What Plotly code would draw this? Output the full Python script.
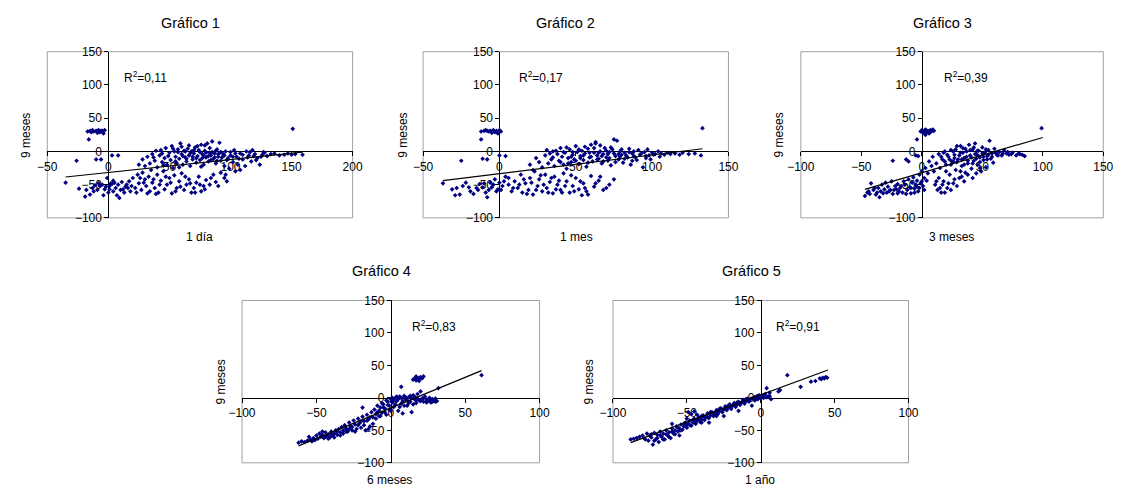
import plotly.graph_objects as go

W, H = 1126, 497
FONT = "Liberation Sans, Arial, sans-serif"
NAVY = "#000080"

# ---------------- data ----------------
y_label = "9 meses"
titles = ["Gráfico 1", "Gráfico 2", "Gráfico 3", "Gráfico 4", "Gráfico 5"]
x_labels = ["1 día", "1 mes", "3 meses", "6 meses", "1 año"]
r2_values = ["0,11", "0,17", "0,39", "0,83", "0,91"]
x_ranges = [[-50, 200], [-50, 150], [-100, 150], [-100, 100], [-100, 100]]
y_range = [-100, 150]
tick_step = 50

trend_1dia = [(-35, -38.5), (159, -1)]
trend_1mes = [(-37, -44), (133, 4)]
trend_3meses = [(-47, -57), (100, 21)]
trend_6meses = [(-62, -74), (61, 42)]
trend_1anio = [(-88, -69), (45.5, 43)]

pts_1dia = [
    (-17, 30), (-15, 31), (-13, 32), (-12, 30), (-10, 31), (-8, 32), (-7, 29), (-5, 31), (-4, 27), (-3, 32),
    (-14, 29), (-9, 28), (-16, 18), (-6, 31),
    (-26, -14), (-10, -12), (-6, -12), (3, -6), (8, -6),
    (-35, -47), (-24, -56), (-19, -68), (-15, -65), (-13, -55), (-11, -51), (-9, -58), (-7, -52), (-5, -50),
    (-4, -66), (-2, -53), (0, -62), (1, -52), (2, -48), (3, -49), (5, -47), (6, -55), (7, -66), (9, -70),
    (10, -58), (12, -57), (14, -53), (-1, -40), (4, -44),
    (-12, -60), (-8, -48), (-3, -57), (1, -57), (4, -60), (-18, -58), (8, -50), (11, -46), (13, -62), (16, -55),
    (15, -50), (17, -45), (18, -60), (20, -40), (22, -55), (24, -35), (25, -48), (27, -58), (28, -32),
    (30, -42), (31, -52), (33, -38), (34, -60), (35, -28), (36, -47), (38, -55), (40, -35), (41, -62),
    (43, -44), (45, -30), (46, -57), (48, -50), (50, -40), (52, -63), (54, -36), (56, -55), (58, -45),
    (60, -33), (62, -58), (64, -50), (66, -42), (68, -62), (70, -55), (72, -47), (74, -38), (76, -60),
    (78, -52), (80, -43), (83, -50), (86, -35), (88, -46), (92, -32), (95, -40), (97, -45), (104, -30),
    (108, -28),
    (19, -52), (23, -62), (26, -40), (29, -47), (32, -63), (37, -42), (39, -64), (42, -50), (47, -38),
    (51, -47), (55, -60), (59, -53), (63, -38), (67, -48), (71, -62), (75, -50), (79, -57), (84, -40),
    (90, -52), (96, -35),
    (25, -20), (28, -12), (30, -22), (32, -8), (34, -18), (36, -4), (38, -14), (40, -24), (42, -6), (43, 2),
    (44, -16), (46, -10), (47, 5), (48, -20), (50, -2), (51, -13), (52, 8), (53, -25), (54, 0), (55, -8),
    (56, -18), (57, 3), (58, -11), (59, 12), (60, -4), (61, -20), (62, 1), (63, -9), (64, -15), (65, 4),
    (66, -6), (67, -22), (68, 0), (69, -12), (70, -3), (71, 6), (72, -17), (73, -7), (74, 2), (75, -13),
    (76, 10), (77, -4), (78, -20), (79, 1), (80, -9), (81, 12), (82, -15), (83, -2), (84, -6), (85, 15),
    (86, -11), (87, -3), (88, -18), (89, 3), (90, -8), (91, 13), (92, -14), (94, -4), (95, -22), (96, 0),
    (98, -10), (99, -26), (100, -6), (102, -16), (103, 2), (105, -8), (106, -20), (108, -3), (110, -12),
    (112, -22), (113, 0), (115, -6), (117, -15), (118, 2), (120, -4), (122, -10), (124, -20), (126, -5),
    (128, -2), (130, -7), (133, -4), (136, -3), (140, -6), (144, -5), (147, -3), (150, -5), (153, -4),
    (159, -5), (151, 34),
    (37, -9), (39, 1), (44, -3), (45, -21), (49, -7), (53, 4), (55, -15), (57, -1), (58, -24), (60, 7),
    (61, -7), (63, 0), (64, -11), (66, 9), (67, -3), (69, -8), (70, 2), (72, -10), (73, 8), (75, -1),
    (76, -23), (77, -10), (78, -6), (79, 9), (80, -2), (82, -7), (83, 5), (84, -13), (85, -1), (87, -9),
    (88, 1), (89, -14), (90, -4), (92, -1), (93, -9), (95, -6), (97, -13), (100, -1), (102, -8), (104, -3),
    (107, -11), (110, -5), (114, -9), (116, -1), (119, -7), (121, -13), (125, -8), (127, -1),
]

pts_1mes = [
    (-12, 30), (-10, 31), (-9, 32), (-7, 30), (-6, 31), (-4, 32), (-3, 29), (-2, 31), (-1, 27), (0, 32),
    (1, 30), (-5, 28), (-12, 18), (-8, 31),
    (-25, -14), (-11, -11), (-8, -12), (0, -6), (4, -7),
    (-37, -48), (-31, -57), (-29, -66), (-26, -65), (-22, -47), (-20, -54), (-17, -64), (-13, -49),
    (-11, -54), (-9, -62), (-8, -69), (-6, -47), (-5, -54), (-3, -42), (-1, -57), (0, -47), (-15, -55),
    (-24, -52), (-2, -60), (2, -52),
    (-28, -55), (-19, -60), (-14, -58), (-10, -48), (-7, -58), (-4, -50), (1, -58), (3, -45),
    (4, -38), (6, -50), (8, -60), (10, -45), (12, -55), (14, -35), (15, -62), (17, -48), (19, -58),
    (20, -40), (22, -65), (23, -30), (25, -52), (26, -42), (28, -60), (30, -35), (31, -55), (33, -46),
    (35, -63), (36, -38), (38, -50), (40, -58), (42, -33), (44, -45), (46, -62), (48, -52), (50, -40),
    (52, -57), (54, -66), (55, -48), (57, -60), (60, -37), (62, -53), (65, -44), (68, -58), (72, -50),
    (75, -42),
    (6, -40), (9, -55), (13, -50), (16, -42), (18, -64), (21, -47), (24, -58), (27, -36), (29, -50),
    (32, -62), (34, -40), (37, -57), (39, -44), (41, -62), (43, -52), (47, -36), (49, -60), (53, -45),
    (56, -55), (58, -65), (63, -48), (66, -38), (70, -55),
    (20, -20), (22, -28), (24, -10), (26, -16), (28, -24), (30, -6), (31, 2), (32, -18), (34, -12), (35, 0),
    (36, -22), (38, -4), (39, -14), (40, 5), (41, -8), (42, -20), (43, -2), (44, -26), (45, -10), (46, 3),
    (47, -16), (48, -5), (49, -12), (50, 8), (51, -1), (52, -19), (53, -7), (54, 1), (55, -13), (56, -3),
    (57, -23), (58, 4), (59, -9), (60, 10), (61, -15), (62, -2), (63, 12), (64, -6), (65, -11), (66, 0),
    (67, -18), (68, -4), (69, 5), (70, -9), (71, -14), (72, -1), (73, -21), (74, 3), (75, 18), (76, -7),
    (77, 16), (78, -12), (79, 0), (80, -5), (81, -17), (82, -2), (84, -9), (85, 4), (86, -20), (87, -3),
    (88, -7), (90, -13), (91, 2), (92, -5), (94, -24), (95, -1), (96, -10), (97, 3), (98, -6), (100, -2),
    (102, -4), (104, 0), (106, -3), (108, -5), (110, -2), (112, -4), (115, -3), (118, -5), (120, -2),
    (124, -4), (128, -3), (132, -6), (133, 35), (63, 14),
    (33, -3), (35, -9), (37, 1), (40, -16), (42, -1), (44, 6), (45, -18), (47, -8), (48, -1), (50, -14),
    (52, 3), (53, -10), (55, -6), (56, 7), (58, -17), (59, -2), (60, -8), (62, 5), (64, -12), (65, -2),
    (66, 9), (67, -7), (68, -15), (70, 1), (71, -4), (72, -10), (73, 6), (75, -3), (76, -16), (78, -4),
    (79, -8), (80, 3), (82, -11), (83, -6), (85, -1), (87, -14), (88, 0), (89, -9), (93, -3), (96, -7),
    (99, -12), (101, -5), (105, -8),
]

pts_3meses = [
    (-47, -67), (-45, -62), (-42, -48), (-43, -64), (-40, -58), (-38, -65), (-36, -55), (-35, -69),
    (-34, -60), (-33, -50), (-31, -57), (-30, -47), (-29, -62), (-28, -53), (-26, -58), (-25, -45),
    (-24, -64), (-22, -52), (-21, -57), (-20, -49), (-19, -60), (-18, -55), (-16, -62), (-15, -45),
    (-14, -50), (-12, -58), (-11, -42), (-10, -54), (-9, -63), (-8, -47), (-7, -39), (-6, -56), (-5, -50),
    (-4, -44), (-3, -60), (-2, -35), (-1, -48), (0, -30), (1, -52), (2, -40), (3, -25), (4, -44), (5, -33),
    (-44, -60), (-39, -55), (-37, -62), (-32, -63), (-27, -60), (-23, -58), (-20, -63), (-17, -52),
    (-13, -64), (-9, -55), (-6, -62), (-4, -53), (-2, -55), (0, -45), (2, -58),
    (-1, 30), (0, 32), (1, 28), (2, 31), (3, 33), (4, 29), (5, 31), (6, 27), (7, 32), (8, 30), (9, 33),
    (10, 31), (3, 25), (-4, 18),
    (-24, -14), (-13, -12), (-11, -15), (-5, -6), (-3, -7),
    (6, -15), (8, -22), (9, -8), (10, -30), (11, -50), (12, -18), (13, -58), (14, -4), (15, -25), (16, -62),
    (17, -12), (18, -45), (19, 0), (20, -20), (21, -55), (22, -8), (23, -35), (24, 2), (25, -15), (26, -48),
    (27, -5), (28, -28), (29, 8), (30, -12), (31, -40), (32, -2), (33, -22), (34, 5), (35, -10), (36, -32),
    (37, 0), (38, -18), (39, 10), (40, -6), (41, -26), (42, 3), (43, -14), (44, 12), (45, -4), (46, -20),
    (47, 1), (48, -9), (49, -30), (50, 6), (51, -13), (52, -2), (53, -24), (54, -7), (55, 2), (56, 16),
    (57, -11), (58, -3), (59, -17), (60, 4), (62, -5), (64, -1), (66, -6), (68, 2), (70, -3), (72, -5),
    (75, -2), (78, -6), (81, -4), (85, -7), (99, 35), (26, -15), (33, -38), (20, -30), (14, -40),
    (16, -8), (18, -2), (19, -15), (21, -5), (23, -12), (24, -20), (26, 0), (27, -10), (28, 3), (29, -16),
    (31, -6), (32, 8), (33, -12), (34, -2), (35, -20), (36, 4), (37, -8), (38, -14), (40, 2), (41, -9),
    (42, -18), (43, 6), (44, -4), (45, -11), (46, 1), (47, -7), (48, -16), (50, -3), (51, -8), (53, 3),
    (54, -12), (55, -5), (58, -8), (61, -2), (63, -6), (67, -3), (71, -1), (74, -4), (80, -3), (83, -5),
    (12, -45), (15, -55), (17, -50), (19, -62), (22, -48), (24, -58), (27, -42), (29, -52), (32, -30),
    (35, -45), (38, -35), (42, -40), (45, -33), (48, -25),
]

pts_6meses = [
    (-62, -69), (-60, -67), (-58, -68), (-56, -66), (-54, -64), (-52, -62), (-50, -58), (-49, -63),
    (-48, -55), (-47, -60), (-46, -57), (-45, -62), (-44, -53), (-43, -59), (-42, -56), (-41, -61),
    (-40, -52), (-39, -58), (-38, -55), (-37, -50), (-36, -57), (-35, -48), (-34, -53), (-33, -45),
    (-32, -50), (-31, -42), (-30, -47), (-29, -52), (-28, -38), (-27, -44), (-26, -50), (-25, -35),
    (-24, -41), (-23, -48), (-22, -32), (-21, -39), (-20, -46), (-19, -15), (-19, -29), (-18, -36),
    (-17, -50), (-16, -26), (-15, -33), (-14, -44), (-13, -22), (-12, -30), (-11, -18), (-10, -25),
    (-9, -12), (-8, -20), (-7, -28), (-6, -8), (-5, -15), (-4, -22), (-3, -4), (-2, -11), (-1, -18),
    (0, -2), (1, -7), (2, -14), (3, 0), (4, -5), (5, -20), (6, 2), (7, -9), (8, -24), (9, 3), (10, -3),
    (11, -12), (12, 1), (13, -6), (14, -22), (15, 4), (16, -2), (17, -8), (18, 6), (19, -4), (20, 10),
    (21, -1), (22, -6), (23, 2), (24, -3), (25, -5), (26, 0), (27, -7), (28, -2), (29, -4), (30, -6),
    (32, 15), (7, 17), (61, 35),
    (15, 28), (16, 30), (17, 27), (18, 31), (19, 29), (20, 32), (21, 30), (22, 33), (17, 33), (19, 26),
    (-55, -60), (-53, -67), (-51, -65), (-46, -52), (-44, -60), (-42, -63), (-40, -57), (-38, -61),
    (-36, -52), (-34, -58), (-32, -55), (-30, -52), (-28, -48), (-26, -45), (-24, -52), (-22, -42),
    (-20, -36), (-18, -42), (-16, -35), (-15, -48), (-14, -30), (-12, -40), (-10, -32), (-9, -22),
    (-8, -28), (-7, -15), (-6, -23), (-5, -10), (-4, -16), (-3, -26), (-2, -6), (-1, -12), (0, -20),
    (1, 0), (2, -4), (3, -10), (4, 2), (5, -2), (6, -14), (7, 0), (8, -5), (9, -12), (10, 1), (11, -4),
    (12, -8), (13, 3), (14, -1), (15, -10), (16, 2), (17, -4), (18, -1), (20, -5), (22, 0), (24, -7),
    (26, -3), (28, -6), (30, -1), (31, -5),
]

pts_1anio = [
    (-88, -64), (-86, -63), (-82, -60), (-79, -62), (-77, -55), (-76, -66), (-75, -58), (-74, -61),
    (-73, -72), (-72, -54), (-71, -64), (-70, -57), (-69, -68), (-68, -52), (-67, -60), (-66, -55),
    (-65, -64), (-64, -50), (-63, -58), (-62, -53), (-61, -62), (-60, -47), (-59, -55), (-58, -50),
    (-57, -44), (-56, -52), (-55, -47), (-54, -41), (-53, -49), (-52, -44), (-51, -38), (-50, -46),
    (-49, -40), (-48, -35), (-47, -43), (-46, -38), (-45, -32), (-44, -40), (-43, -35), (-42, -30),
    (-41, -37), (-40, -33), (-39, -27), (-38, -34), (-37, -29), (-36, -24), (-35, -31), (-34, -27),
    (-33, -22), (-32, -28), (-31, -24), (-30, -19), (-29, -25), (-28, -21), (-27, -16), (-26, -22),
    (-25, -18), (-24, -13), (-23, -19), (-22, -15), (-21, -10), (-20, -17), (-19, -12), (-18, -8),
    (-17, -14), (-16, -10), (-15, -6), (-14, -11), (-13, -7), (-12, -3), (-11, -9), (-10, -5), (-9, -1),
    (-8, -6), (-7, -2), (-6, -12), (-5, 0), (-4, -4), (-3, 2), (-2, -2), (-1, 4), (0, -1), (1, 3), (2, 0),
    (3, 6), (4, 15), (5, 2), (6, 8), (7, -2), (13, 12), (12, 10), (18, 35), (27, 17), (34, 25), (37, 26),
    (40, 30), (41, 29), (42, 31), (43, 30), (44, 32), (45, 31), (-45, -38), (-50, -32), (-35, -38),
    (-25, -28), (-15, -20), (-60, -40),
    (-84, -62), (-80, -58), (-78, -64), (-74, -56), (-72, -66), (-70, -62), (-68, -58), (-66, -64),
    (-64, -56), (-62, -60), (-60, -52), (-58, -56), (-56, -46), (-54, -50), (-52, -40), (-50, -42),
    (-48, -42), (-46, -34), (-44, -36), (-42, -33), (-40, -28), (-38, -30), (-36, -30), (-34, -22),
    (-32, -24), (-30, -22), (-28, -17), (-26, -18), (-24, -16), (-22, -12), (-20, -13), (-18, -11),
    (-16, -7), (-14, -8), (-12, -6), (-10, -2), (-8, -3), (-6, -1), (-4, 1), (-2, 3), (0, 2), (2, 4),
    (4, 1), (6, 3), (-30, -28), (-40, -38), (-55, -58),
    (-49, -22), (-47, -25), (-45, -21), (-43, -26),
]

all_points = [pts_1dia, pts_1mes, pts_3meses, pts_6meses, pts_1anio]
all_trends = [trend_1dia, trend_1mes, trend_3meses, trend_6meses, trend_1anio]
r2_pos = [(11, 112), (11.5, 112), (16.5, 112), (13, 111), (9, 111)]

# ---------------- layout geometry (pixels) ----------------
boxes = [(34, 346, 46, 217), (418, 730, 46, 217), (804, 1113, 46, 217),
         (233, 537, 302, 469), (612, 914, 302, 469)]
title_xy = [(180, 16), (564, 16), (949, 16), (375, 272), (754, 272)]
ytitle_xy = [(13, 132), (398, 132), (782, 132), (212, 386), (588, 386)]
xtitle_xy = [(190, 237), (575, 237), (958, 237), (384, 487), (762, 487)]


def px(x):
    return x / W


def py(y):
    return 1 - y / H


fig = go.Figure()
annotations = []
shapes = []
layout_axes = {}

for i in range(5):
    n = i + 1
    xa = "x" if n == 1 else f"x{n}"
    ya = "y" if n == 1 else f"y{n}"
    xkey = "xaxis" if n == 1 else f"xaxis{n}"
    ykey = "yaxis" if n == 1 else f"yaxis{n}"
    x0, x1, yt, yb = boxes[i]
    xr = x_ranges[i]
    dom_x = [px(x0), px(x1)]
    dom_y = [py(yb), py(yt)]
    zero_y = dom_y[0] + (0 - y_range[0]) / (y_range[1] - y_range[0]) * (dom_y[1] - dom_y[0])
    zero_x = dom_x[0] + (0 - xr[0]) / (xr[1] - xr[0]) * (dom_x[1] - dom_x[0])

    pts = all_points[i]
    fig.add_trace(go.Scatter(
        x=[p[0] for p in pts], y=[p[1] for p in pts], mode="markers",
        marker=dict(symbol="diamond", size=3.6, color=NAVY, line=dict(width=0)),
        xaxis=xa, yaxis=ya, showlegend=False, hoverinfo="skip"))
    tr = all_trends[i]
    fig.add_trace(go.Scatter(
        x=[p[0] for p in tr], y=[p[1] for p in tr], mode="lines",
        line=dict(color="black", width=1.2),
        xaxis=xa, yaxis=ya, showlegend=False, hoverinfo="skip"))

    common = dict(showgrid=False, zeroline=False, showline=True, linecolor="black", linewidth=1,
                  ticks="outside", ticklen=4, tickcolor="black", tickwidth=1, dtick=tick_step,
                  tickfont=dict(family=FONT, size=12, color="black"), layer="below traces",
                  fixedrange=True)
    layout_axes[xkey] = dict(common, domain=dom_x, range=xr, anchor="free", position=zero_y,
                             tick0=0)
    layout_axes[ykey] = dict(common, domain=dom_y, range=y_range, anchor="free", position=zero_x,
                             tick0=0)

    shapes.append(dict(type="rect", xref=f"{xa} domain", yref=f"{ya} domain", x0=0, x1=1, y0=0, y1=1,
                       line=dict(color="#a0a0a0", width=1), layer="below"))

    annotations.append(dict(text=titles[i], x=px(title_xy[i][0]), y=py(title_xy[i][1]), xref="paper",
                            yref="paper", showarrow=False, xanchor="center", yanchor="middle",
                            font=dict(family=FONT, size=14.5, color="black")))
    annotations.append(dict(text=y_label, x=px(ytitle_xy[i][0]), y=py(ytitle_xy[i][1]), xref="paper",
                            yref="paper", showarrow=False, xanchor="center", yanchor="middle",
                            textangle=-90, font=dict(family=FONT, size=12, color="black")))
    annotations.append(dict(text=x_labels[i], x=px(xtitle_xy[i][0]), y=py(xtitle_xy[i][1]), xref="paper",
                            yref="paper", showarrow=False, xanchor="center", yanchor="middle",
                            font=dict(family=FONT, size=12, color="black")))
    annotations.append(dict(text=f"R<sup>2</sup>=" + r2_values[i], x=r2_pos[i][0], y=r2_pos[i][1],
                            xref=xa, yref=ya, showarrow=False, xanchor="left", yanchor="middle",
                            font=dict(family=FONT, size=12, color="black")))

fig.update_layout(
    width=W, height=H, margin=dict(l=0, r=0, t=0, b=0),
    paper_bgcolor="white", plot_bgcolor="white",
    annotations=annotations, shapes=shapes, showlegend=False,
    **layout_axes)

fig.write_html("out.html", config={"displayModeBar": False})
